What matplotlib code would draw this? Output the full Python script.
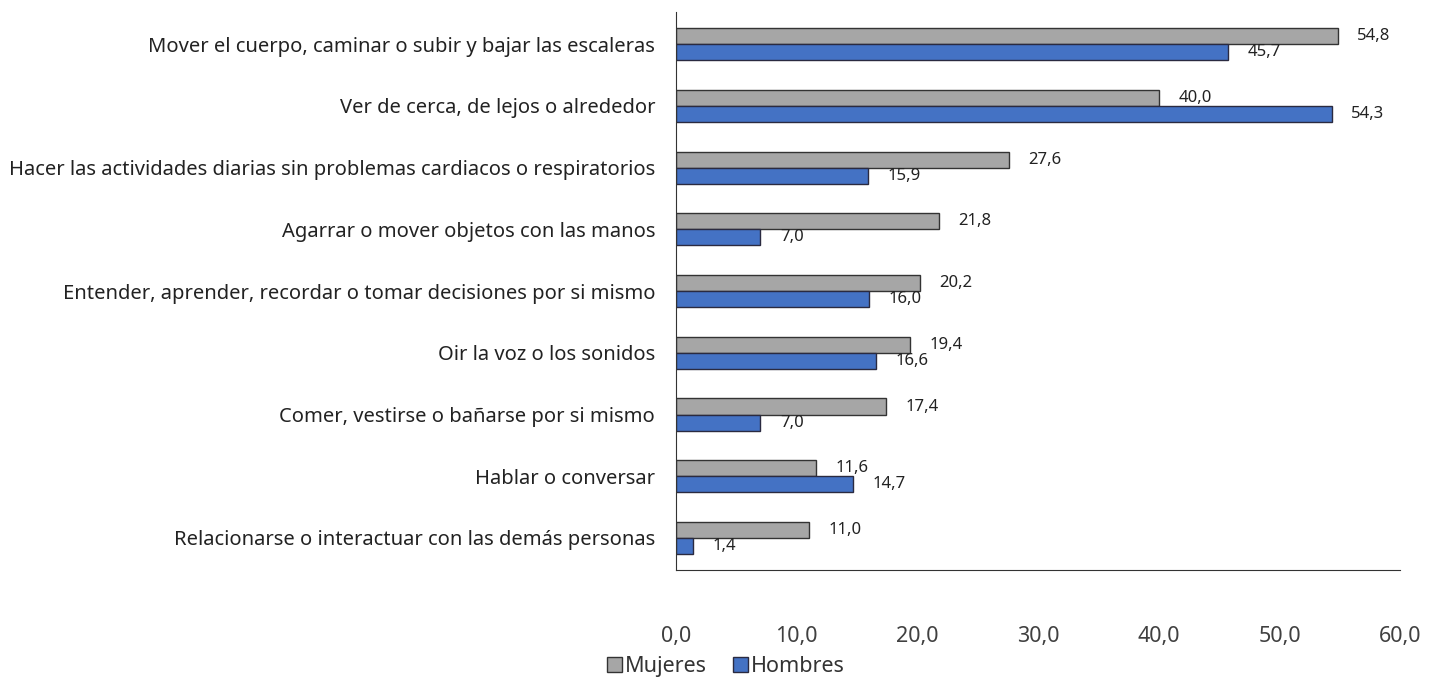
import numpy as np
import matplotlib
matplotlib.use('Agg')
import matplotlib.pyplot as plt

categories = ['Mover el cuerpo, caminar o subir y bajar las escaleras',
              'Ver de cerca, de lejos o alrededor',
              'Hacer las actividades diarias sin problemas cardiacos o respiratorios',
              'Agarrar o mover objetos con las manos',
              'Entender, aprender, recordar o tomar decisiones por si mismo',
              'Oir la voz o los sonidos',
              'Comer, vestirse o bañarse por si mismo',
              'Hablar o conversar',
              'Relacionarse o interactuar con las demás personas']
mujeres = [54.8, 40.0, 27.6, 21.8, 20.2, 19.4, 17.4, 11.6, 11.0]
hombres = [45.7, 54.3, 15.9, 7.0, 16.0, 16.6, 7.0, 14.7, 1.4]
xticks = [0, 10, 20, 30, 40, 50, 60]

plt.rcParams['font.family'] = ['Noto Sans', 'DejaVu Sans']

fig = plt.figure(figsize=(14.29, 6.77), dpi=100)
ax = fig.add_axes([0.473, 0.158, 0.507, 0.824])

n = len(categories)
y = np.arange(n)
h = 0.26
b1 = ax.barh(y - h / 2, mujeres, height=h, color='#A6A6A6', edgecolor='#333333', linewidth=1, label='Mujeres')
b2 = ax.barh(y + h / 2, hombres, height=h, color='#4472C4', edgecolor='#2a2a40', linewidth=1, label='Hombres')

def fmt(v):
    return f'{v:.1f}'.replace('.', ',')

for bars, vals in ((b1, mujeres), (b2, hombres)):
    for bar, v in zip(bars, vals):
        ax.annotate(fmt(v), (v, bar.get_y() + bar.get_height() / 2),
                    xytext=(14, 0), textcoords='offset points',
                    va='center', ha='left', fontsize=12, color='#222222')

ax.set_ylim(n - 1 + 0.52, -0.52)
ax.set_xlim(0, 60)
ax.set_yticks(y)
ax.set_yticklabels(categories, fontsize=14.5, color='#222222')
ax.set_xticks(xticks)
ax.set_xticklabels([fmt(t) for t in xticks], fontsize=15.5, color='#404040')
ax.tick_params(axis='both', length=0)
ax.tick_params(axis='x', pad=40)
ax.tick_params(axis='y', pad=15)
for s in ['top', 'right']:
    ax.spines[s].set_visible(False)
ax.spines['left'].set_color('#333333')
ax.spines['bottom'].set_color('#333333')

fig.legend(handles=[b1, b2], labels=['Mujeres', 'Hombres'], loc='center',
           bbox_to_anchor=(0.508, 0.016), ncol=2, frameon=False, fontsize=15.5,
           handlelength=0.7, handleheight=0.7, handletextpad=0.15, columnspacing=1.2,
           labelcolor='#333333')

fig.savefig('out.png', dpi=100)
